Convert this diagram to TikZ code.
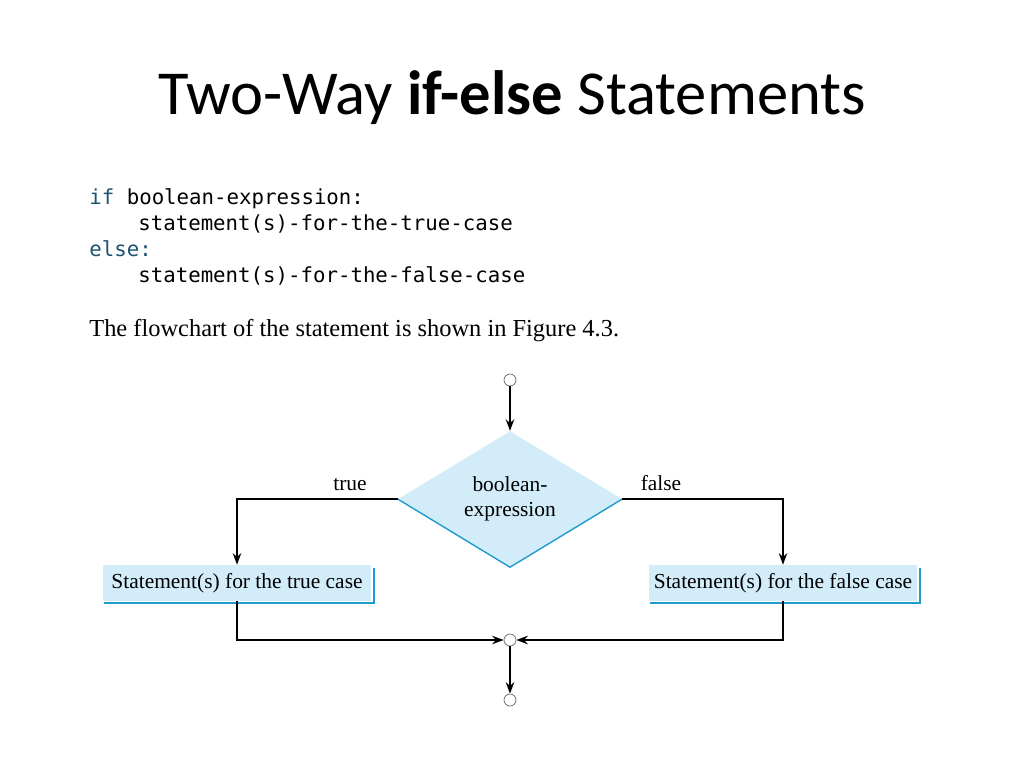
\documentclass[tikz,border=0pt]{standalone}
\usepackage{fontspec}
\setmainfont{Liberation Serif}
\newfontfamily\titlefont{Carlito}
\newfontfamily\codefont{DejaVu Sans Mono}
\usetikzlibrary{arrows.meta,shapes.geometric}
\definecolor{paleblue}{HTML}{D3ECF9}
\definecolor{edgeblue}{HTML}{1E9BCF}
\definecolor{keyteal}{HTML}{1A5470}

\begin{document}
\begin{tikzpicture}[x=0.02cm,y=-0.02cm,
    codeline/.style={anchor=base west,inner sep=0pt,font=\codefont\fontsize{11.8}{14}\selectfont},
    flowtext/.style={font=\fontsize{12.2}{14}\selectfont},
    stmtbox/.style={flowtext,fill=paleblue,minimum width=5.38cm,minimum height=0.72cm,inner sep=0pt},
    decision/.style={diamond,fill=paleblue,minimum width=4.48cm,minimum height=2.64cm,inner sep=0pt,align=center,flowtext},
    connector/.style={circle,draw=black!60,fill=white,minimum size=0.24cm,inner sep=0pt},
    flow/.style={-{Stealth[length=2.3mm,width=1.7mm]},thick},
    wire/.style={thick}]
	\useasboundingbox (0,0) rectangle (1024,768);
	% title
	\node (title) at (512,98) {\titlefont\fontsize{35.6}{42}\selectfont Two-Way \textbf{if-else} Statements};
	% code
	\node[codeline] (c1) at (89,204) {\textcolor{keyteal}{if} boolean-expression:};
	\node[codeline] (c2) at (138,230) {statement(s)-for-the-true-case};
	\node[codeline] (c3) at (89,256) {\textcolor{keyteal}{else:}};
	\node[codeline] (c4) at (138,282) {statement(s)-for-the-false-case};
	\node[anchor=base west,inner sep=0pt,font=\fontsize{13.9}{16}\selectfont] (caption) at (89,336)
		{The flowchart of the statement is shown in Figure 4.3.};
	% flowchart
	\node[connector] (start) at (510,380) {};
	\node[decision] (test) at (510,499) {boolean-\\expression};
	\draw[edgeblue,thick] (test.west) -- (test.south) -- (test.east);
	\node[stmtbox] (yes) at (237,583) {Statement(s) for the true case};
	\node[stmtbox] (no) at (783,583) {Statement(s) for the false case};
	\draw[edgeblue,very thick] ([xshift=1pt,yshift=-1pt]yes.south west) -- ([xshift=1pt,yshift=-1pt]yes.south east) -- ([xshift=1pt,yshift=-2pt]yes.north east);
	\draw[edgeblue,very thick] ([xshift=1pt,yshift=-1pt]no.south west) -- ([xshift=1pt,yshift=-1pt]no.south east) -- ([xshift=1pt,yshift=-2pt]no.north east);
	\node[connector] (join) at (510,640) {};
	\node[connector] (stop) at (510,700) {};
	\draw[flow] (start) -- (test.north);
	\draw[flow] (test.west) -| (yes.north);
	\draw[flow] (test.east) -| (no.north);
	\draw (350,497) node[above,flowtext] {true};
	\draw (661,497) node[above,flowtext] {false};
	\draw[flow] (yes.south) |- (join);
	\draw[flow] (no.south) |- (join);
	\draw[flow] (join) -- (stop);
\end{tikzpicture}
\end{document}
